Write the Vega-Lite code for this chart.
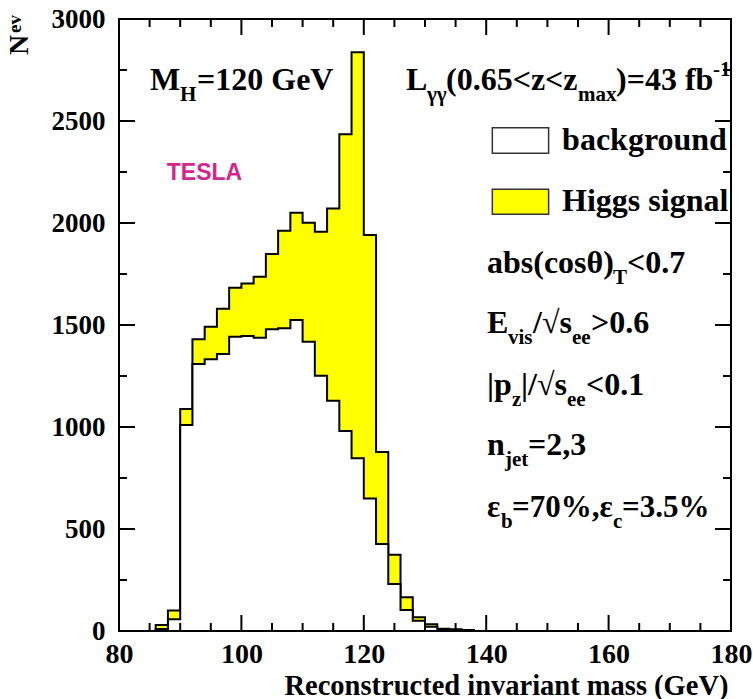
{
 "$schema": "https://vega.github.io/schema/vega-lite/v6.json",
 "width": 612, "height": 612,
 "autosize": {"type": "none"},
 "padding": {"left": 119, "top": 19, "right": 22, "bottom": 68},
 "background": "white",
 "config": {
   "view": {"stroke": "black", "strokeWidth": 2},
   "axis": {"domain": false, "ticks": false, "tickSize": 0, "grid": false, "labelFont": "Liberation Serif", "labelFontWeight": "bold", "labelFontSize": 27, "labelColor": "black", "labelFlush": false, "labelOverlap": false, "labelBound": false, "titleFont": "Liberation Serif", "titleFontWeight": "bold", "titleColor": "black"},
   "text": {"font": "Liberation Serif", "fontWeight": "bold", "fontSize": 32, "align": "left", "baseline": "alphabetic", "color": "black"}
 },
 "datasets": {
   "xMajor": [{"v": 100}, {"v": 120}, {"v": 140}, {"v": 160}],
   "xMinor": [{"v": 85}, {"v": 90}, {"v": 95}, {"v": 105}, {"v": 110}, {"v": 115}, {"v": 125}, {"v": 130}, {"v": 135}, {"v": 145}, {"v": 150}, {"v": 155}, {"v": 165}, {"v": 170}, {"v": 175}],
   "yMajor": [{"v": 500}, {"v": 1000}, {"v": 1500}, {"v": 2000}, {"v": 2500}],
   "yMinor": [{"v": 250}, {"v": 750}, {"v": 1250}, {"v": 1750}, {"v": 2250}, {"v": 2750}]
 },
 "data": {"values": [
  {"mass": 86, "background": 10, "total": 30},
  {"mass": 88, "background": 57, "total": 100},
  {"mass": 90, "background": 1010, "total": 1088},
  {"mass": 92, "background": 1309, "total": 1430},
  {"mass": 94, "background": 1332, "total": 1492},
  {"mass": 96, "background": 1358, "total": 1580},
  {"mass": 98, "background": 1443, "total": 1683},
  {"mass": 100, "background": 1446, "total": 1704},
  {"mass": 102, "background": 1438, "total": 1737},
  {"mass": 104, "background": 1479, "total": 1848},
  {"mass": 106, "background": 1484, "total": 1962},
  {"mass": 108, "background": 1525, "total": 2050},
  {"mass": 110, "background": 1418, "total": 2001},
  {"mass": 112, "background": 1251, "total": 1957},
  {"mass": 114, "background": 1129, "total": 2071},
  {"mass": 116, "background": 980, "total": 2435},
  {"mass": 118, "background": 847, "total": 2837},
  {"mass": 120, "background": 649, "total": 1941},
  {"mass": 122, "background": 426, "total": 878},
  {"mass": 124, "background": 231, "total": 374},
  {"mass": 126, "background": 103, "total": 165},
  {"mass": 128, "background": 50, "total": 67},
  {"mass": 130, "background": 21, "total": 33},
  {"mass": 132, "background": 8, "total": 11},
  {"mass": 134, "background": 5, "total": 8},
  {"mass": 136, "background": 3, "total": 5},
  {"mass": 138, "background": 0, "total": 0}
 ]},
 "layer": [
  {"mark": {"type": "area", "interpolate": "step-after", "fill": "#ffff00", "fillOpacity": 1, "stroke": "black", "strokeWidth": 2},
   "encoding": {
     "x": {"field": "mass", "type": "quantitative", "scale": {"domain": [80, 180], "nice": false, "zero": false},
           "axis": {"orient": "bottom", "values": [80, 100, 120, 140, 160, 180], "labelPadding": 9, "labelFontSize": 28, "title": "Reconstructed invariant mass (GeV)", "titleFontSize": 28.5, "titleAnchor": "end", "titleAlign": "right", "titleBaseline": "alphabetic", "titleX": 609, "titleY": 63}},
     "y": {"field": "total", "type": "quantitative", "scale": {"domain": [0, 3000], "nice": false},
           "axis": {"orient": "left", "values": [0, 500, 1000, 1500, 2000, 2500, 3000], "format": "d", "labelPadding": 14, "title": null}}
   }},
  {"mark": {"type": "area", "interpolate": "step-after", "fill": "white", "fillOpacity": 1, "stroke": "black", "strokeWidth": 2},
   "encoding": {
     "x": {"field": "mass", "type": "quantitative", "axis": null},
     "y": {"field": "background", "type": "quantitative", "axis": null}
   }},
  {"data": {"name": "xMajor"}, "mark": {"type": "rule", "color": "black", "strokeWidth": 2},
   "encoding": {"x": {"field": "v", "type": "quantitative", "axis": null}, "y": {"datum": 0, "type": "quantitative", "axis": null}, "y2": {"datum": 78.4}}},
  {"data": {"name": "xMajor"}, "mark": {"type": "rule", "color": "black", "strokeWidth": 2},
   "encoding": {"x": {"field": "v", "type": "quantitative", "axis": null}, "y": {"datum": 2921.6, "type": "quantitative", "axis": null}, "y2": {"datum": 3000}}},
  {"data": {"name": "xMinor"}, "mark": {"type": "rule", "color": "black", "strokeWidth": 2},
   "encoding": {"x": {"field": "v", "type": "quantitative", "axis": null}, "y": {"datum": 0, "type": "quantitative", "axis": null}, "y2": {"datum": 39.2}}},
  {"data": {"name": "xMinor"}, "mark": {"type": "rule", "color": "black", "strokeWidth": 2},
   "encoding": {"x": {"field": "v", "type": "quantitative", "axis": null}, "y": {"datum": 2960.8, "type": "quantitative", "axis": null}, "y2": {"datum": 3000}}},
  {"data": {"name": "yMajor"}, "mark": {"type": "rule", "color": "black", "strokeWidth": 2},
   "encoding": {"y": {"field": "v", "type": "quantitative", "axis": null}, "x": {"datum": 80, "type": "quantitative", "axis": null}, "x2": {"datum": 82.61}}},
  {"data": {"name": "yMajor"}, "mark": {"type": "rule", "color": "black", "strokeWidth": 2},
   "encoding": {"y": {"field": "v", "type": "quantitative", "axis": null}, "x": {"datum": 177.39, "type": "quantitative", "axis": null}, "x2": {"datum": 180}}},
  {"data": {"name": "yMinor"}, "mark": {"type": "rule", "color": "black", "strokeWidth": 2},
   "encoding": {"y": {"field": "v", "type": "quantitative", "axis": null}, "x": {"datum": 80, "type": "quantitative", "axis": null}, "x2": {"datum": 81.31}}},
  {"data": {"name": "yMinor"}, "mark": {"type": "rule", "color": "black", "strokeWidth": 2},
   "encoding": {"y": {"field": "v", "type": "quantitative", "axis": null}, "x": {"datum": 178.69, "type": "quantitative", "axis": null}, "x2": {"datum": 180}}},
  {"data": {"values": [{}]},
   "mark": {"type": "rect", "fill": "white", "stroke": "#333333", "strokeWidth": 1.5},
   "encoding": {
     "x": {"datum": 141.0, "type": "quantitative", "axis": null},
     "x2": {"datum": 150.2},
     "y": {"datum": 2467, "type": "quantitative", "axis": null},
     "y2": {"datum": 2342}
   }},
  {"data": {"values": [{}]},
   "mark": {"type": "rect", "fill": "#ffff00", "stroke": "#333333", "strokeWidth": 1.5},
   "encoding": {
     "x": {"datum": 141.0, "type": "quantitative", "axis": null},
     "x2": {"datum": 150.2},
     "y": {"datum": 2165, "type": "quantitative", "axis": null},
     "y2": {"datum": 2043}
   }},
  {"data": {"values": [{}]},
   "encoding": {"x": {"datum": 85.07, "type": "quantitative", "axis": null}, "y": {"datum": 2652, "type": "quantitative", "axis": null}},
   "layer": [
     {"mark": {"type": "text", "text": "M"}},
     {"mark": {"type": "text", "text": "H", "fontSize": 21, "dx": 30, "dy": 11}},
     {"mark": {"type": "text", "text": "=120 GeV", "dx": 47}}
   ]},
  {"data": {"values": [{}]},
   "encoding": {"x": {"datum": 126.9, "type": "quantitative", "axis": null}, "y": {"datum": 2652, "type": "quantitative", "axis": null}},
   "layer": [
     {"mark": {"type": "text", "text": "L"}},
     {"mark": {"type": "text", "text": "γγ", "fontSize": 21, "dx": 21, "dy": 11}},
     {"mark": {"type": "text", "text": "(0.65<z<z", "dx": 40}},
     {"mark": {"type": "text", "text": "max", "fontSize": 21, "dx": 172, "dy": 11}},
     {"mark": {"type": "text", "text": ")=43 fb", "dx": 210}},
     {"mark": {"type": "text", "text": "-1", "fontSize": 21, "dx": 307, "dy": -14}}
   ]},
  {"data": {"values": [{}]},
   "encoding": {"x": {"datum": 152.4, "type": "quantitative", "axis": null}, "y": {"datum": 2358, "type": "quantitative", "axis": null}},
   "mark": {"type": "text", "text": "background"}},
  {"data": {"values": [{}]},
   "encoding": {"x": {"datum": 152.4, "type": "quantitative", "axis": null}, "y": {"datum": 2060, "type": "quantitative", "axis": null}},
   "mark": {"type": "text", "text": "Higgs signal"}},
  {"data": {"values": [{}]},
   "encoding": {"x": {"datum": 140.13, "type": "quantitative", "axis": null}, "y": {"datum": 1755, "type": "quantitative", "axis": null}},
   "layer": [
     {"mark": {"type": "text", "text": "abs(cosθ)"}},
     {"mark": {"type": "text", "text": "T", "fontSize": 21, "dx": 126, "dy": 11}},
     {"mark": {"type": "text", "text": "<0.7", "dx": 140}}
   ]},
  {"data": {"values": [{}]},
   "encoding": {"x": {"datum": 140.13, "type": "quantitative", "axis": null}, "y": {"datum": 1461, "type": "quantitative", "axis": null}},
   "layer": [
     {"mark": {"type": "text", "text": "E"}},
     {"mark": {"type": "text", "text": "vis", "fontSize": 21, "dx": 21, "dy": 11}},
     {"mark": {"type": "text", "text": "/√s", "dx": 46}},
     {"mark": {"type": "text", "text": "ee", "fontSize": 21, "dx": 85, "dy": 11}},
     {"mark": {"type": "text", "text": ">0.6", "dx": 104}}
   ]},
  {"data": {"values": [{}]},
   "encoding": {"x": {"datum": 140.13, "type": "quantitative", "axis": null}, "y": {"datum": 1157, "type": "quantitative", "axis": null}},
   "layer": [
     {"mark": {"type": "text", "text": "|p"}},
     {"mark": {"type": "text", "text": "z", "fontSize": 21, "dx": 25, "dy": 11}},
     {"mark": {"type": "text", "text": "|/√s", "dx": 34}},
     {"mark": {"type": "text", "text": "ee", "fontSize": 21, "dx": 80, "dy": 11}},
     {"mark": {"type": "text", "text": "<0.1", "dx": 99}}
   ]},
  {"data": {"values": [{}]},
   "encoding": {"x": {"datum": 140.13, "type": "quantitative", "axis": null}, "y": {"datum": 863, "type": "quantitative", "axis": null}},
   "layer": [
     {"mark": {"type": "text", "text": "n"}},
     {"mark": {"type": "text", "text": "jet", "fontSize": 21, "dx": 18, "dy": 11}},
     {"mark": {"type": "text", "text": "=2,3", "dx": 41}}
   ]},
  {"data": {"values": [{}]},
   "encoding": {"x": {"datum": 140.13, "type": "quantitative", "axis": null}, "y": {"datum": 559, "type": "quantitative", "axis": null}},
   "layer": [
     {"mark": {"type": "text", "text": "ε", "fontSize": 31}},
     {"mark": {"type": "text", "text": "b", "fontSize": 21, "dx": 14, "dy": 11}},
     {"mark": {"type": "text", "text": "=70%,ε", "fontSize": 31, "dx": 25}},
     {"mark": {"type": "text", "text": "c", "fontSize": 21, "dx": 126, "dy": 11}},
     {"mark": {"type": "text", "text": "=3.5%", "fontSize": 31, "dx": 135}}
   ]},
  {"data": {"values": [{}]},
   "encoding": {"x": {"datum": 87.8, "type": "quantitative", "axis": null}, "y": {"datum": 2211, "type": "quantitative", "axis": null}},
   "mark": {"type": "text", "text": "TESLA", "font": "Liberation Sans", "fontSize": 23, "color": "#d4268f"}},
  {"data": {"values": [{}]},
   "encoding": {"x": {"datum": 80, "type": "quantitative", "axis": null}, "y": {"datum": 3000, "type": "quantitative", "axis": null}},
   "layer": [
     {"mark": {"type": "text", "text": "N", "fontSize": 28, "angle": 270, "dx": -36, "dy": -91}},
     {"mark": {"type": "text", "text": "ev", "fontSize": 19, "angle": 270, "dx": -14, "dy": -98}}
   ]}
 ],
 "resolve": {"axis": {"x": "independent", "y": "independent"}}
}
